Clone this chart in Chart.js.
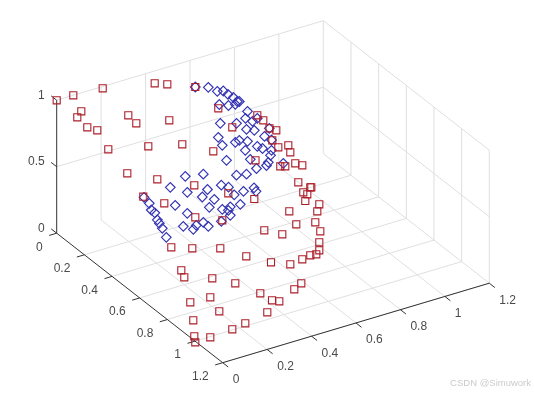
<!DOCTYPE html>
<html>
<head>
<meta charset="utf-8">
<style>
  html, body { margin: 0; padding: 0; background: #fff; }
  #wrap { width: 534px; height: 395px; }
</style>
</head>
<body>
<div id="wrap"><canvas id="chart" width="534" height="395"></canvas></div>
<script src="https://cdn.jsdelivr.net/npm/chart.js"></script>
<script>
// tick values of the three axes
const xTicks = [0, 0.2, 0.4, 0.6, 0.8, 1, 1.2];
const yTicks = [0, 0.2, 0.4, 0.6, 0.8, 1, 1.2];
const zTicks = [0, 0.5, 1];

// marks, in view plane units (depth can't be recovered from a 3D view)
const blueH = [195.3, 208.3, 217.3, 223.3, 228, 233.3, 237.3, 239.3, 235.3, 228.5, 219.3, 247.5, 245.5, 252.5, 257.3,
  220.3, 236.5, 246.5, 254.3, 264.5, 269.3, 218.3, 222.3, 239.3, 235.3, 247.5, 257.3, 262.5, 271.5, 271.5, 245.3, 270.5,
  226.5, 250.3, 268.3, 266.5, 256.5, 283.3, 246.5, 236.5, 203.3, 185.3, 170.3, 187.3, 207.5, 221.3, 228.5, 202.3,
  214.3, 234.2, 243.5, 254, 256, 240.3, 209.3, 175.2, 187.3, 222.3, 230.3, 228.3, 230.3, 183.3, 203.3, 208.3,
  196.3, 193.3, 221.3, 144, 149.3, 151.3, 154.8, 157.3, 159.3, 162.3, 166.3];
const blueV = [87, 87.3, 91.3, 91, 94.3, 97.3, 101.5, 101.5, 104.3, 105.5, 104.5, 111.3, 118.3, 121.3, 118.3,
  123.3, 123.3, 129.3, 130.3, 136.3, 128.3, 137.3, 145.3, 140.3, 142.3, 141.3, 146.3, 148.5, 140, 150.3, 150.3, 155.3,
  160.3, 159.3, 162.3, 165.5, 168.5, 163.3, 174.2, 175.2, 174.2, 176.3, 187.3, 192.3, 189.5, 185.2, 187.2, 197,
  199.3, 194.8, 191.3, 187.8, 191.3, 204.3, 207.3, 205.3, 213.3, 209.3, 206.8, 210.3, 215.3, 226.3, 222.3, 226.3,
  225.3, 229.3, 221.3, 197.3, 203.3, 210, 212.8, 219.8, 223.3, 228.3, 237.3];
const redH = [56.7, 73.3, 102.7, 154.7, 167.3, 195.3, 81.3, 77.3, 87.3, 97.3, 128.3, 136.3, 169.3, 108.3, 148.3, 182.3,
  213.3, 218.3, 232.3, 257.3, 263.3, 269.5, 276.3, 272.3, 278.3, 288.3, 290.3, 295.3, 302.3, 280.3, 285.3, 255.5,
  127.3, 157.3, 194.3, 228.3, 254.3, 143.3, 164.3, 195.3, 222.3, 298.3, 303.3, 307.3, 310.3, 311.3, 305.3, 319.3,
  317.3, 289.3, 296.3, 315.3, 320.3, 264.3, 282.3, 319.3, 319.3, 316.3, 310.3, 302.3, 290.3, 271, 171.3, 192.3,
  220.3, 246.3, 181.3, 184.3, 212.3, 235.3, 260.3, 301.3, 294.3, 279.3, 272, 210.3, 190.3, 219.3, 267.3, 193.3,
  245.3, 232.3, 210.3, 194.3, 195.3];
const redV = [100.3, 95.3, 88.3, 83.3, 84.3, 87, 111.3, 117.3, 127.3, 130.3, 115.3, 123.3, 120.3, 149.3, 146.3, 144.3,
  151.3, 108.3, 127.3, 115.3, 120.3, 128.3, 130.3, 140.3, 147.3, 145.3, 152.3, 163.3, 165.3, 166.3, 166.3, 160.3,
  173.3, 179.3, 185.3, 193.3, 199, 196.7, 203.3, 217.3, 220.3, 182.3, 192.3, 194.3, 187.3, 187.3, 201, 204.3,
  211.3, 211.3, 224.3, 222.3, 231.3, 230.3, 234.3, 242.3, 250.3, 254.3, 255.3, 259.3, 264.3, 262.3, 247.3, 248.3,
  248.3, 256.3, 270.3, 277.3, 278.3, 283.3, 293.3, 283.3, 289.3, 301.3, 300.3, 297.3, 302.3, 311.3, 312.3, 320.3,
  323.3, 329.3, 337.3, 336.3, 342.3];

const axisMax = 1.2;
const zMax = 1;

// orthographic view of the box
const project = (x, y, z) => ({
  x: 56.7 + (x / axisMax) * 166 + (y / axisMax) * 266.6,
  y: 233.2 + (x / axisMax) * 129.5 - (y / axisMax) * 79.5 - (z / zMax) * 133,
});

// a gap between segments in one dataset
const gap = { x: NaN, y: NaN };
const segments = (list) => list.flatMap(([a, b]) => [a, b, gap]);

const gridSegments = segments([
  // floor
  ...xTicks.slice(1).map((x) => [project(x, 0, 0), project(x, axisMax, 0)]),
  ...yTicks.slice(1).map((y) => [project(0, y, 0), project(axisMax, y, 0)]),
  // back walls
  ...yTicks.slice(1).map((y) => [project(0, y, 0), project(0, y, zMax)]),
  ...xTicks.slice(1).map((x) => [project(x, axisMax, 0), project(x, axisMax, zMax)]),
  ...zTicks.slice(1).map((z) => [project(0, 0, z), project(0, axisMax, z)]),
  ...zTicks.slice(1).map((z) => [project(0, axisMax, z), project(axisMax, axisMax, z)]),
]);

const axisSegments = segments([
  [project(0, 0, 0), project(0, 0, zMax)],
  [project(0, 0, 0), project(axisMax, 0, 0)],
  [project(axisMax, 0, 0), project(axisMax, axisMax, 0)],
  ...xTicks.map((x) => [project(x, 0, 0), project(x, -0.034, 0)]),
  ...yTicks.map((y) => [project(axisMax, y, 0), project(axisMax + 0.04, y, 0)]),
  ...zTicks.map((z) => [project(0, 0, z), project(-0.04, 0, z)]),
]);

// tick labels and the watermark are real text placed through the scales
const tickLabels = {
  id: 'tickLabels',
  afterDatasetsDraw(chart) {
    const { ctx, scales } = chart;
    const put = (text, p, dx, dy, align) => {
      ctx.textAlign = align;
      ctx.fillText(text, scales.x.getPixelForValue(p.x) + dx, scales.y.getPixelForValue(p.y) + dy);
    };
    ctx.save();
    ctx.font = '12px "Liberation Sans", Arial, sans-serif';
    ctx.fillStyle = '#4a4a4a';
    ctx.textBaseline = 'middle';
    xTicks.forEach((x) => put(String(x), project(x, 0, 0), -14, 14, 'right'));
    yTicks.forEach((y) => put(String(y), project(axisMax, y, 0), 10, 17, 'left'));
    zTicks.forEach((z) => put(String(z), project(0, 0, z), -12, -5, 'right'));
    ctx.font = '9.5px "Liberation Sans", Arial, sans-serif';
    ctx.fillStyle = '#cbcbcb';
    ctx.textAlign = 'right';
    ctx.fillText('CSDN @Simuwork', 531, 383);
    ctx.restore();
  },
};

const toPoints = (h, v) => h.map((value, i) => ({ x: value, y: v[i] }));

new Chart(document.getElementById('chart'), {
  type: 'scatter',
  data: {
    datasets: [
      {
        data: gridSegments,
        showLine: true,
        borderColor: '#dfdfdf',
        borderWidth: 1,
        pointRadius: 0,
        order: 4,
      },
      {
        data: axisSegments,
        showLine: true,
        borderColor: '#333333',
        borderWidth: 1,
        pointRadius: 0,
        order: 3,
      },
      {
        label: 'blue',
        data: toPoints(blueH, blueV),
        pointStyle: 'rectRot',
        pointRadius: 4.8,
        pointBorderWidth: 1.2,
        pointBorderColor: '#3434b4',
        pointBackgroundColor: 'rgba(0,0,0,0)',
        order: 2,
      },
      {
        label: 'red',
        data: toPoints(redH, redV),
        pointStyle: 'rect',
        pointRadius: 5,
        pointBorderWidth: 1.1,
        pointBorderColor: '#ac1e2a',
        pointBackgroundColor: 'rgba(0,0,0,0)',
        order: 1,
      },
    ],
  },
  options: {
    responsive: false,
    animation: false,
    layout: { padding: 0, autoPadding: false },
    plugins: { legend: { display: false }, tooltip: { enabled: false } },
    scales: {
      x: { type: 'linear', display: false, min: 0, max: 534 },
      y: { type: 'linear', display: false, min: 0, max: 395, reverse: true },
    },
  },
  plugins: [tickLabels],
});
</script>
</body>
</html>
